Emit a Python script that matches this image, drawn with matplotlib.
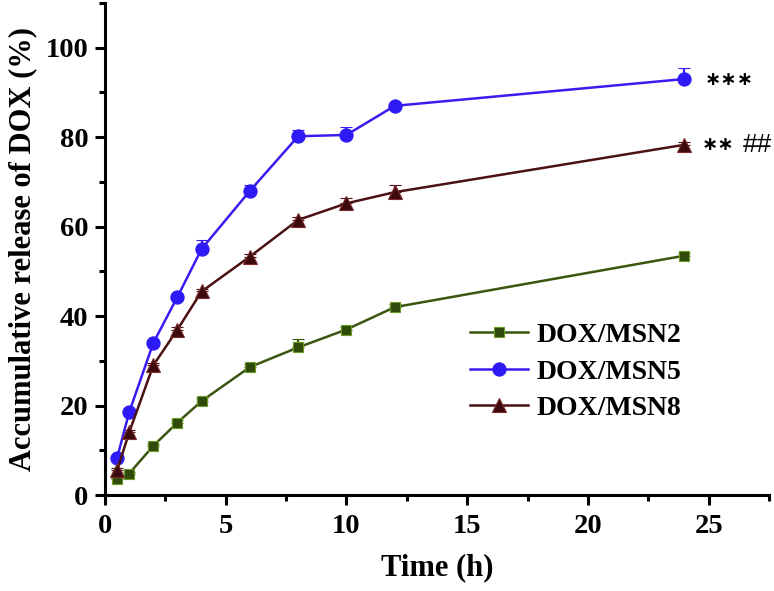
import matplotlib.pyplot as plt
from matplotlib.ticker import MultipleLocator

# Release time points (h)
time_h = [0.5, 1, 2, 3, 4, 6, 8, 10, 12, 24]

# Accumulative release of DOX (%)
msn2 = [3.5, 4.8, 11.0, 16.2, 21.0, 28.6, 33.0, 37.0, 42.0, 53.5]
msn5 = [8.3, 18.5, 34.0, 44.3, 55.0, 68.0, 80.2, 80.5, 87.0, 93.0]
msn8 = [5.5, 14.0, 29.0, 37.0, 45.5, 53.3, 61.5, 65.2, 67.7, 78.3]

# Upper error bars (SD)
msn2_err = [0.4, 0.4, 0.5, 0.5, 0.6, 0.6, 1.8, 0.6, 0.6, 0.6]
msn5_err = [0.5, 0.6, 0.6, 0.6, 2.0, 1.3, 1.3, 1.7, 0.6, 2.4]
msn8_err = [0.5, 0.5, 0.6, 0.6, 0.6, 0.6, 0.6, 1.1, 1.7, 0.6]

labels = ['DOX/MSN2', 'DOX/MSN5', 'DOX/MSN8']
stars = ['\u2217\u2217\u2217', '\u2217\u2217']
hashes = '##'


def main():
    plt.rcParams['font.family'] = ['Liberation Serif', 'DejaVu Serif']
    plt.rcParams['font.weight'] = 'bold'

    fig = plt.figure(figsize=(7.74, 5.91), dpi=100)
    ax = fig.add_axes([0.1357, 0.1624, 0.8578, 0.8326])

    series = [
        (msn2, msn2_err, 's', '#3a5510', '#2f4a0a', '#6a9a20', 7),
        (msn5, msn5_err, 'o', '#3a1cf0', '#2e1af5', '#2e1af5', 9.5),
        (msn8, msn8_err, '^', '#4a1012', '#3c0a0c', '#7a2a2a', 9.5),
    ]
    handles = []
    for (vals, err, mk, lc, mfc, mec, ms), lab in zip(series, labels):
        cont = ax.errorbar(time_h, vals, yerr=[[0] * len(err), err], color=lc,
                           marker=mk, markersize=ms, markerfacecolor=mfc,
                           markeredgecolor=mec, markeredgewidth=0.8,
                           linewidth=1.8, elinewidth=1.6, capsize=4,
                           capthick=1.6, label=lab)
        handles.append(cont.lines[0])

    # significance marks next to the 24 h points
    ax.text(24.85, msn5[-1], stars[0], fontsize=14, fontweight='bold',
            family=['DejaVu Sans'], va='center', ha='left')
    ax.text(24.7, msn8[-1], stars[1], fontsize=14, fontweight='bold',
            family=['DejaVu Sans'], va='center', ha='left')
    ax.text(26.4, msn8[-1], hashes, fontsize=19, fontweight='normal',
            family=['Liberation Sans'], va='center', ha='left')

    ax.set_xlim(0, 27.5)
    ax.set_ylim(0, 110)
    ax.xaxis.set_major_locator(MultipleLocator(5))
    ax.xaxis.set_minor_locator(MultipleLocator(2.5))
    ax.yaxis.set_major_locator(MultipleLocator(20))
    ax.yaxis.set_minor_locator(MultipleLocator(10))

    for side in ['top', 'right']:
        ax.spines[side].set_visible(False)
    for side in ['left', 'bottom']:
        ax.spines[side].set_linewidth(2.2)

    ax.tick_params(which='major', direction='out', length=7, width=2.2,
                   labelsize=20.5, pad=5)
    ax.tick_params(axis='x', which='major', pad=7)
    ax.tick_params(which='minor', direction='out', length=4, width=2.2)

    ax.set_xlabel('Time (h)', fontsize=22, fontweight='bold', labelpad=10)
    ax.set_ylabel('Accumulative release of DOX (%)', fontsize=22,
                  fontweight='bold', labelpad=6)

    ax.legend(handles, labels, loc='upper left', bbox_to_anchor=(0.52, 0.39),
              frameon=False, fontsize=20, handlelength=2.1,
              handletextpad=0.3, labelspacing=0.4, borderpad=0.2)

    plt.savefig('out.png', dpi=100)


if __name__ == "__main__":
    main()
